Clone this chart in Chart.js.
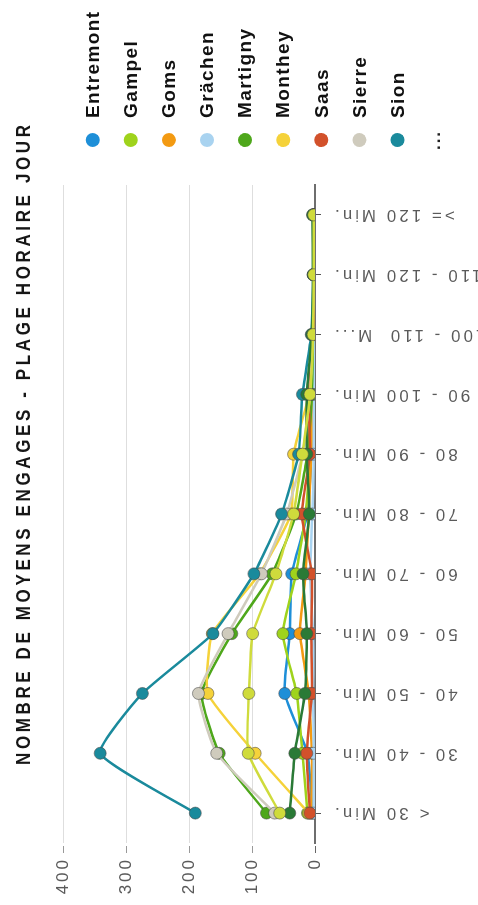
<!DOCTYPE html>
<html>
<head>
<meta charset="utf-8">
<title>Nombre de moyens engages - plage horaire jour</title>
<script src="https://cdn.jsdelivr.net/npm/chart.js@4.4.1/dist/chart.umd.min.js"></script>
<style>
  html, body { margin: 0; padding: 0; background: #fff; overflow: hidden; }
  body { width: 478px; height: 905px; position: relative; }
  /* chart is drawn landscape, then turned a quarter to the left */
  #chart { position: absolute; left: 0; top: 905px; transform-origin: 0 0; transform: rotate(-90deg); }
</style>
</head>
<body>
<canvas id="chart" width="905" height="478"></canvas>
<script>
const title = 'NOMBRE DE MOYENS ENGAGES - PLAGE HORAIRE JOUR';

const categories = ['< 30 Min.', '30 - 40 Min.', '40 - 50 Min.', '50 - 60 Min.', '60 - 70 Min.',
  '70 - 80 Min.', '80 - 90 Min.', '90 - 100 Min.', '100 - 110  M...', '110 - 120 Min.', '>= 120 Min.'];

const regions = ['Entremont', 'Gampel', 'Goms', 'Grächen', 'Martigny', 'Monthey', 'Saas', 'Sierre', 'Sion', 'Visp', 'Zermatt'];
const colors = ['#1e8fd8', '#9fd31c', '#f39a12', '#a9d3f0', '#4ea71b', '#f5d23a', '#d2512b', '#cfcbbd', '#1a8a9c', '#2a7a36', '#cfdb3c'];

const entremont = [4, 12, 48, 40, 37, 12, 6, 4, 2, 1, 1];
const gampel    = [12, 20, 29, 51, 30, 15, 8, 5, 3, 2, 2];
const goms      = [6, 5, 10, 24, 15, 10, 6, 3, 2, 1, 1];
const grachen   = [2, 2, 3, 3, 8, 4, 2, 2, 1, 1, 1];
const martigny  = [77, 152, 180, 132, 68, 30, 12, 5, 3, 2, 2];
const monthey   = [10, 95, 170, 163, 88, 38, 34, 10, 4, 2, 2];
const saas      = [8, 13, 5, 6, 5, 21, 8, 10, 3, 1, 1];
const sierre    = [64, 156, 185, 138, 85, 45, 20, 8, 4, 2, 3];
const sion      = [190, 341, 274, 162, 97, 53, 26, 20, 6, 3, 3];
const visp      = [40, 32, 16, 13, 19, 9, 13, 13, 5, 3, 4];
const zermatt   = [56, 106, 105, 99, 62, 34, 20, 8, 3, 2, 2];

const series = [entremont, gampel, goms, grachen, martigny, monthey, saas, sierre, sion, visp, zermatt];
const legendShown = 9;   // the rest hides behind "..."

const valueTicks = [0, 100, 200, 300, 400];

// letter spacing of the axis texts (reset each time the canvas state is reset)
const spacingPlugin = {
  id: 'spacing',
  beforeLayout(chart) { chart.ctx.letterSpacing = '3px'; },
  beforeDraw(chart) { chart.ctx.letterSpacing = '3px'; }
};

// title in a condensed bold face, spread over 640px
const titlePlugin = {
  id: 'sideTitle',
  afterDraw(chart) {
    const ctx = chart.ctx;
    const squeeze = 0.85;
    ctx.save();
    ctx.font = 'bold 20px "Liberation Sans", Arial, sans-serif';
    ctx.letterSpacing = '0px';
    const w = ctx.measureText(title).width;
    ctx.letterSpacing = ((640 / squeeze - w) / (title.length - 1)) + 'px';
    ctx.scale(squeeze, 1);
    ctx.fillStyle = '#161616';
    ctx.textAlign = 'left';
    ctx.textBaseline = 'middle';
    ctx.fillText(title, 140 / squeeze, 24);
    ctx.restore();
  }
};

const legendPlugin = {
  id: 'sideLegend',
  afterDraw(chart) {
    const ctx = chart.ctx;
    const x = chart.chartArea.right + 45;
    ctx.save();
    ctx.textBaseline = 'middle';
    ctx.textAlign = 'left';
    chart.data.datasets.slice(0, legendShown).forEach((ds, i) => {
      const y = 92.7 + i * 38.1;
      ctx.beginPath();
      ctx.arc(x, y, 7, 0, Math.PI * 2);
      ctx.fillStyle = ds.borderColor;
      ctx.fill();
      ctx.font = 'bold 19px "Liberation Sans", Arial, sans-serif';
      ctx.letterSpacing = '1.4px';
      ctx.fillStyle = '#111';
      ctx.fillText(ds.label, x + 22, y + 1);
    });
    ctx.font = 'bold 17px "Liberation Sans", Arial, sans-serif';
    ctx.letterSpacing = '2px';
    ctx.textAlign = 'center';
    ctx.fillStyle = '#222';
    ctx.fillText('...', x, 92.7 + legendShown * 38.1);
    ctx.restore();
  }
};

const datasets = series.map((data, i) => ({
  label: regions[i],
  data: data,
  borderColor: colors[i],
  backgroundColor: colors[i],
  borderWidth: 2.5,
  pointRadius: 6,
  pointBorderWidth: 1,
  pointBorderColor: 'rgba(70,70,70,0.55)',
  pointBackgroundColor: colors[i],
  tension: 0.15,
  order: series.length - i
}));

new Chart(document.getElementById('chart'), {
  type: 'line',
  data: { labels: categories, datasets: datasets },
  plugins: [spacingPlugin, titlePlugin, legendPlugin],
  options: {
    responsive: false,
    animation: false,
    devicePixelRatio: 1,
    layout: { padding: { top: 63, right: 185, left: 0, bottom: 0 } },
    plugins: {
      legend: { display: false },
      title: { display: false },
      tooltip: { enabled: false }
    },
    scales: {
      x: {
        offset: true,
        afterFit: (scale) => { scale.height = 163; },
        grid: { drawOnChartArea: false, drawTicks: true, tickLength: 6, tickColor: '#555' },
        border: { display: true, color: '#6e6e6e', width: 2 },
        ticks: {
          autoSkip: false,
          minRotation: 90,
          maxRotation: 90,
          padding: 11,
          color: '#5a5a5a',
          font: { family: '"Liberation Sans", Arial, sans-serif', size: 17 }
        }
      },
      y: {
        min: 0,
        max: 400,
        afterFit: (scale) => { scale.width = 62; },
        afterBuildTicks: (scale) => { scale.ticks = valueTicks.map(v => ({ value: v })); },
        border: { display: false },
        grid: {
          color: (c) => c.tick && c.tick.value === 0 ? '#6e6e6e' : '#dedede',
          tickColor: (c) => c.tick && c.tick.value === 0 ? '#666' : '#999',
          tickLength: 10,
          tickBorderDash: [7, 20],
          lineWidth: 1
        },
        ticks: {
          padding: 4,
          color: '#5a5a5a',
          font: { family: '"Liberation Sans", Arial, sans-serif', size: 17 }
        }
      }
    }
  }
});
</script>
</body>
</html>
